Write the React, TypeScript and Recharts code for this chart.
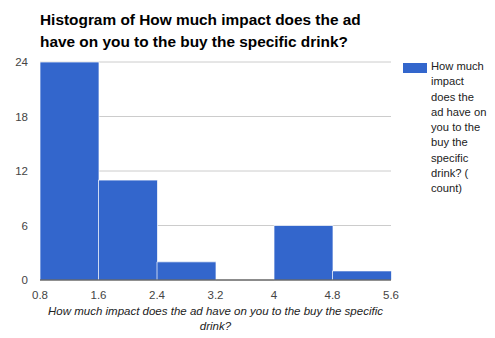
import { Bar, BarChart, CartesianGrid, ReferenceLine, XAxis, YAxis } from "recharts";

const BIN_START = [0.8, 1.6, 2.4, 3.2, 4, 4.8];
const COUNTS = [24, 11, 2, 0, 6, 1];
const X_TICKS = [0.8, 1.6, 2.4, 3.2, 4, 4.8, 5.6];
const Y_TICKS = [0, 6, 12, 18, 24];
const LEGEND_LINES = ["How much", "impact", "does the", "ad have on", "you to the", "buy the", "specific", "drink? (", "count)"];

const FONT = "Arial, 'Liberation Sans', sans-serif";
const BLUE = "#3366cc";

export default function App() {
  const data = BIN_START.map((start, i) => ({ bin: `${start}`, start, count: COUNTS[i] }));

  return (
    <div style={{ position: "relative", width: 495, height: 338, margin: -8, background: "#fff", fontFamily: FONT }}>
      <div
        style={{
          position: "absolute",
          left: 40,
          top: 9,
          width: 330,
          fontSize: 15.4,
          fontWeight: "bold",
          lineHeight: "22px",
          color: "#000",
        }}
      >
        Histogram of How much impact does the ad have on you to the buy the specific drink?
      </div>

      <BarChart
        width={495}
        height={338}
        data={data}
        barCategoryGap={0}
        margin={{ top: 62, right: 104, bottom: 0, left: 0 }}
        style={{ position: "absolute", left: 0, top: 0 }}
      >
        <CartesianGrid vertical={false} stroke="#cccccc" />
        <XAxis xAxisId="cat" dataKey="bin" orientation="top" hide />
        <XAxis
          xAxisId="num"
          dataKey="start"
          type="number"
          domain={[0.8, 5.6]}
          ticks={X_TICKS}
          allowDataOverflow
          tickLine={false}
          axisLine={false}
          tick={{ fontSize: 11.5, fill: "#444444", fontFamily: FONT }}
          tickMargin={5}
          height={58}
        />
        <YAxis
          domain={[0, 24]}
          ticks={Y_TICKS}
          width={40}
          tickSize={0}
          tickMargin={12}
          axisLine={false}
          tick={{ fontSize: 11.5, fill: "#444444", fontFamily: FONT }}
        />
        <Bar
          xAxisId="cat"
          dataKey="count"
          fill={BLUE}
          stroke="#ffffff"
          strokeOpacity={0.7}
          strokeWidth={1}
          isAnimationActive={false}
        />
        <ReferenceLine xAxisId="cat" y={0} stroke="#333333" strokeWidth={1} />
      </BarChart>

      <div
        style={{
          position: "absolute",
          left: 45,
          top: 304,
          width: 341,
          textAlign: "center",
          fontSize: 11.5,
          fontStyle: "italic",
          lineHeight: "15px",
          color: "#222222",
        }}
      >
        How much impact does the ad have on you to the buy the specific drink?
      </div>

      <div style={{ position: "absolute", left: 403, top: 63, width: 24, height: 10, background: BLUE }} />
      <div
        style={{
          position: "absolute",
          left: 431,
          top: 59,
          fontSize: 11.2,
          lineHeight: "15.3px",
          color: "#222222",
          whiteSpace: "nowrap",
        }}
      >
        {LEGEND_LINES.map((line, i) => (
          <div key={i}>{line}</div>
        ))}
      </div>
    </div>
  );
}
